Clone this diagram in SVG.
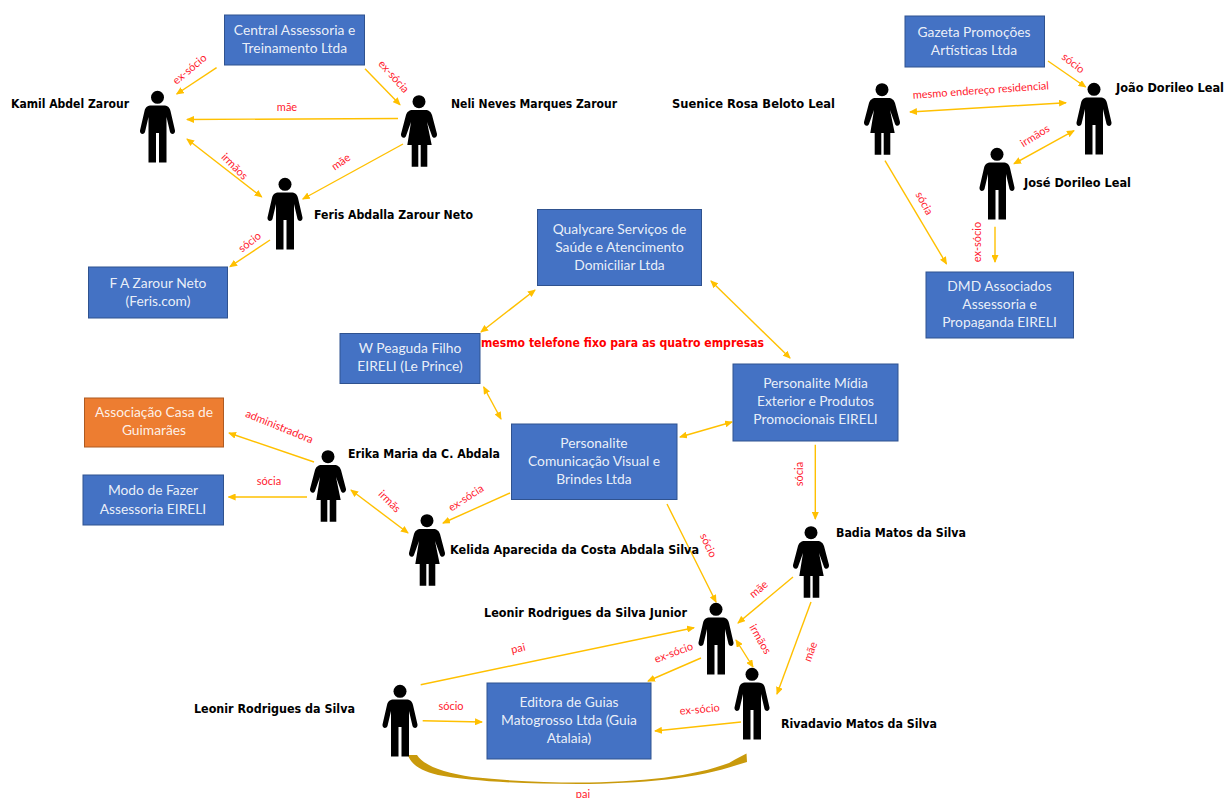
<svg xmlns="http://www.w3.org/2000/svg" width="1226" height="798" viewBox="0 0 1226 798">
<style>
.box{fill:#4472C4;stroke:#2F528F;stroke-width:1}
.org{fill:#ED7D31;stroke:#AE5A21;stroke-width:1}
.bt{font-family:Lato,"Liberation Sans",sans-serif;font-size:13.8px;fill:#fff;text-anchor:middle;fill-opacity:.9}
.pn{font-family:"DejaVu Sans",sans-serif;font-size:11.5px;font-weight:bold;fill:#000}
.rl{font-family:Lato,"Liberation Sans",sans-serif;font-size:11px;fill:#FF1A2E;text-anchor:middle}
.hd{font-family:"DejaVu Sans",sans-serif;font-size:11.5px;font-weight:bold;fill:#F00}
#connectors line{stroke:#FFC000;stroke-width:1.4;fill:none}
.a{marker-end:url(#ah)}
.b{marker-start:url(#as);marker-end:url(#ah)}
</style>
<defs>
<marker id="ah" markerWidth="8" markerHeight="7" refX="7" refY="3.5" orient="auto" markerUnits="userSpaceOnUse"><path d="M0,0L8,3.5L0,7Z" fill="#FFC000"/></marker>
<marker id="as" markerWidth="8" markerHeight="7" refX="1" refY="3.5" orient="auto" markerUnits="userSpaceOnUse"><path d="M8,0L0,3.5L8,7Z" fill="#FFC000"/></marker>
<symbol id="man" width="36" height="72" viewBox="0 0 36 72" overflow="visible">
<circle cx="18" cy="6.3" r="6.5"/>
<path d="M12,14.500H24C28,14.500 30,16 31,20L35.500,39.500C36,43.500 31.500,44 30.500,41L27,26V71.500H19.500V42H16.500V71.500H9V26L5.500,41C4.500,44 0,43.500 .5,39.500L5,20C6,16 8,14.500 12,14.500Z"/>
</symbol>
<symbol id="woman" width="36" height="72" viewBox="0 0 36 72" overflow="visible">
<circle cx="18" cy="6.7" r="6.5"/>
<path d="M12,15H24C28,15 30,17 31,20L36,39C36.500,43 32,44 31,41L26,27L30.700,50H26.300V71.700H19.700V50H17.300V71.700H10.700V50H6.300L10,27L5,41C4,44 -.5,43 0,39L5,20C6,17 8,15 12,15Z"/>
</symbol>
</defs>
<rect width="1226" height="798" fill="#fff"/>

<g id="connectors">
<line class="a" x1="216.6" y1="67.7" x2="176.7" y2="94"/>
<line class="a" x1="365" y1="68.7" x2="400" y2="104.7"/>
<line class="a" x1="398" y1="118.5" x2="187" y2="119.5"/>
<line class="b" x1="187" y1="139" x2="261.7" y2="197"/>
<line class="a" x1="403" y1="144" x2="302.8" y2="199"/>
<line class="a" x1="270" y1="240" x2="230" y2="266.7"/>
<line class="b" x1="535" y1="290" x2="481" y2="332"/>
<line class="b" x1="711" y1="281" x2="790" y2="358"/>
<line class="b" x1="483.7" y1="387" x2="501" y2="419"/>
<line class="b" x1="680" y1="437" x2="732" y2="422"/>
<line class="a" x1="815.3" y1="444.7" x2="815.3" y2="519"/>
<line class="a" x1="667" y1="504" x2="716" y2="602"/>
<line class="a" x1="793" y1="577" x2="738" y2="623"/>
<line class="a" x1="811" y1="602" x2="777" y2="694"/>
<line class="b" x1="736" y1="640" x2="753" y2="667"/>
<line class="a" x1="701" y1="658" x2="648" y2="681"/>
<line class="a" x1="741" y1="722" x2="655" y2="731"/>
<line class="a" x1="420.7" y1="684.7" x2="694" y2="627.7"/>
<line class="a" x1="422.7" y1="720.7" x2="482" y2="722"/>
<line class="a" x1="314" y1="462" x2="229" y2="433"/>
<line class="a" x1="307" y1="497" x2="228.6" y2="497"/>
<line class="b" x1="351" y1="490" x2="408" y2="533"/>
<line class="a" x1="510" y1="493" x2="443" y2="523"/>
<line class="a" x1="1048" y1="61" x2="1085.6" y2="87"/>
<line class="b" x1="910" y1="112" x2="1066" y2="102.7"/>
<line class="b" x1="1074" y1="130.7" x2="1014" y2="163.7"/>
<line class="a" x1="885" y1="160.7" x2="946.5" y2="264"/>
<line class="a" x1="995" y1="226.7" x2="995" y2="262"/>
<path d="M408,755L417,755C424,766 445,773 472,777C510,781 545,782.500 578,782.500C640,782.500 695,776 729,763L735,759.500L746.500,753.500L747,762L737,765C700,778 640,784 578,784C520,784 470,781 438,775C420,771 410,763 408,755Z" fill="#C99A0C"/>
</g>

<g id="central"><rect class="box" x="224.500" y="15" width="140" height="50"/><text class="bt" x="294.500" y="35">Central Assessoria e</text><text class="bt" x="294.500" y="53">Treinamento Ltda</text></g>
<g id="fazarour"><rect class="box" x="88.500" y="267" width="139" height="51"/><text class="bt" x="158" y="288">F A Zarour Neto</text><text class="bt" x="158" y="306">(Feris.com)</text></g>
<g id="gazeta"><rect class="box" x="905" y="16" width="139.500" height="51"/><text class="bt" x="974" y="37">Gazeta Promoções</text><text class="bt" x="974" y="55">Artísticas Ltda</text></g>
<g id="dmd"><rect class="box" x="926" y="272" width="147.500" height="66"/><text class="bt" x="999.500" y="291">DMD Associados</text><text class="bt" x="999.500" y="309">Assessoria e</text><text class="bt" x="999.500" y="327">Propaganda EIRELI</text></g>
<g id="qualycare"><rect class="box" x="537.500" y="209.500" width="164" height="76"/><text class="bt" x="619.500" y="234">Qualycare Serviços de</text><text class="bt" x="619.500" y="252">Saúde e Atencimento</text><text class="bt" x="619.500" y="270">Domiciliar Ltda</text></g>
<g id="wpeaguda"><rect class="box" x="340" y="333.500" width="140" height="50"/><text class="bt" x="410" y="353">W Peaguda Filho</text><text class="bt" x="410" y="371">EIRELI (Le Prince)</text></g>
<g id="personalite"><rect class="box" x="511.500" y="424" width="165.500" height="75.500"/><text class="bt" x="594" y="448">Personalite</text><text class="bt" x="594" y="466">Comunicação Visual e</text><text class="bt" x="594" y="484">Brindes Ltda</text></g>
<g id="midia"><rect class="box" x="733" y="364" width="165" height="77"/><text class="bt" x="815.500" y="388">Personalite Mídia</text><text class="bt" x="815.500" y="406">Exterior e Produtos</text><text class="bt" x="815.500" y="424">Promocionais EIRELI</text></g>
<g id="associacao"><rect class="org" x="84.500" y="398" width="139" height="49"/><text class="bt" x="154" y="417">Associação Casa de</text><text class="bt" x="154" y="435">Guimarães</text></g>
<g id="modo"><rect class="box" x="83" y="475" width="140.500" height="50"/><text class="bt" x="153" y="495">Modo de Fazer</text><text class="bt" x="153" y="514">Assessoria EIRELI</text></g>
<g id="editora"><rect class="box" x="487" y="683" width="164" height="76"/><text class="bt" x="569" y="707">Editora de Guias</text><text class="bt" x="569" y="725">Matogrosso Ltda (Guia</text><text class="bt" x="569" y="743">Atalaia)</text></g>

<g id="kamil"><use href="#man" x="139.500" y="91"/><text class="pn" x="11" y="108" textLength="118" lengthAdjust="spacingAndGlyphs">Kamil Abdel Zarour</text></g>
<g id="neli"><use href="#woman" x="401" y="95"/><text class="pn" x="451" y="108" textLength="166" lengthAdjust="spacingAndGlyphs">Neli Neves Marques Zarour</text></g>
<g id="feris"><use href="#man" x="267" y="178"/><text class="pn" x="314" y="219" textLength="159" lengthAdjust="spacingAndGlyphs">Feris Abdalla Zarour Neto</text></g>
<g id="suenice"><use href="#woman" x="864" y="83"/><text class="pn" x="672" y="108" textLength="163" lengthAdjust="spacingAndGlyphs">Suenice Rosa Beloto Leal</text></g>
<g id="joao"><use href="#man" x="1076" y="83"/><text class="pn" x="1116" y="92" textLength="108" lengthAdjust="spacingAndGlyphs">João Dorileo Leal</text></g>
<g id="jose"><use href="#man" x="979" y="148"/><text class="pn" x="1024" y="187" textLength="107" lengthAdjust="spacingAndGlyphs">José Dorileo Leal</text></g>
<g id="erika"><use href="#woman" x="310" y="450"/><text class="pn" x="348" y="458" textLength="152" lengthAdjust="spacingAndGlyphs">Erika Maria da C. Abdala</text></g>
<g id="kelida"><use href="#woman" x="409" y="514"/><text class="pn" x="450" y="554" textLength="249" lengthAdjust="spacingAndGlyphs">Kelida Aparecida da Costa Abdala Silva</text></g>
<g id="badia"><use href="#woman" x="793" y="526"/><text class="pn" x="836" y="537" textLength="130" lengthAdjust="spacingAndGlyphs">Badia Matos da Silva</text></g>
<g id="leonirjr"><use href="#man" x="698" y="603"/><text class="pn" x="484" y="617" textLength="203" lengthAdjust="spacingAndGlyphs">Leonir Rodrigues da Silva Junior</text></g>
<g id="rivadavio"><use href="#man" x="734" y="668"/><text class="pn" x="781" y="728" textLength="156" lengthAdjust="spacingAndGlyphs">Rivadavio Matos da Silva</text></g>
<g id="leonir"><use href="#man" x="382" y="685"/><text class="pn" x="194" y="713" textLength="161" lengthAdjust="spacingAndGlyphs">Leonir Rodrigues da Silva</text></g>

<g id="labels">
<text class="hd" x="481" y="347" textLength="283" lengthAdjust="spacingAndGlyphs">mesmo telefone fixo para as quatro empresas</text>
<text class="rl" transform="translate(192,72) rotate(-40)">ex-sócio</text>
<text class="rl" transform="translate(391,79) rotate(48)">ex-sócia</text>
<text class="rl" x="287" y="111">mãe</text>
<text class="rl" transform="translate(232,169) rotate(45)">irmãos</text>
<text class="rl" transform="translate(343,165) rotate(-35)">mãe</text>
<text class="rl" transform="translate(252,245) rotate(-38)">sócio</text>
<text class="rl" transform="translate(1071,66) rotate(38)">sócio</text>
<text class="rl" transform="translate(981,94) rotate(-4)">mesmo endereço residencial</text>
<text class="rl" transform="translate(1037,139) rotate(-32)">irmãos</text>
<text class="rl" transform="translate(921,205) rotate(62)">sócia</text>
<text class="rl" transform="translate(981,242) rotate(-90)">ex-sócio</text>
<text class="rl" transform="translate(278,430) rotate(22)">administradora</text>
<text class="rl" x="269" y="485">sócia</text>
<text class="rl" transform="translate(387,504) rotate(45)">irmãs</text>
<text class="rl" transform="translate(468,501) rotate(-33)">ex-sócia</text>
<text class="rl" transform="translate(705,547) rotate(65)">sócio</text>
<text class="rl" transform="translate(803,474) rotate(-90)">sócia</text>
<text class="rl" transform="translate(761,592) rotate(-40)">mãe</text>
<text class="rl" transform="translate(757,641) rotate(60)">irmãos</text>
<text class="rl" transform="translate(814,653) rotate(-70)">mãe</text>
<text class="rl" transform="translate(519,652) rotate(-13)">pai</text>
<text class="rl" transform="translate(675,656) rotate(-20)">ex-sócio</text>
<text class="rl" transform="translate(700,713) rotate(-5)">ex-sócio</text>
<text class="rl" x="451" y="710">sócio</text>
<text class="rl" x="583" y="798">pai</text>
</g>
</svg>
